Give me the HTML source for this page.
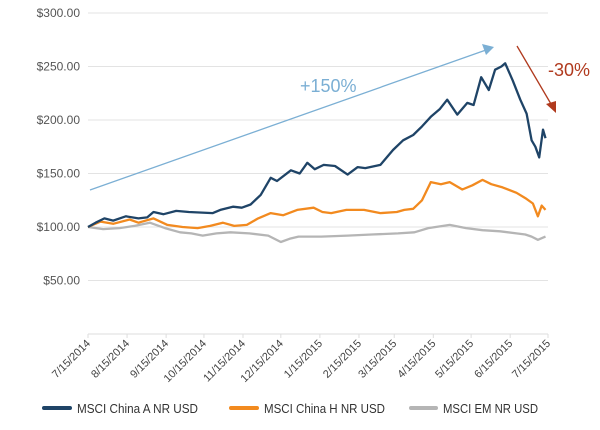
<!DOCTYPE html>
<html><head><meta charset="utf-8"><style>
body{margin:0;background:#fff;}
svg{display:block;font-family:"Liberation Sans",sans-serif;}
</style></head><body>
<svg id="chart" width="600" height="430" viewBox="0 0 600 430" xmlns="http://www.w3.org/2000/svg">
<g id="grid"></g>
<g id="yaxis"></g>
<g id="xaxis"></g>
<g id="series"></g>
<g>
<line x1="90" y1="190" x2="486" y2="50" stroke="#7bafd4" stroke-width="1.3"/>
<polygon points="494,47 482,44 486,55" fill="#7bafd4"/>
<text x="300" y="92" font-size="18" fill="#7bafd4">+150%</text>
</g>
<g>
<line x1="517" y1="46" x2="551" y2="104" stroke="#b03a1e" stroke-width="1.3"/>
<polygon points="556,113 546,104 556,101" fill="#b03a1e"/>
<text x="548" y="76" font-size="18" fill="#b03a1e">-30%</text>
</g>
<g id="legend">
<g><line x1="44" y1="408" x2="70" y2="408" stroke="#1f4467" stroke-width="4" stroke-linecap="round"/><text x="77" y="413" font-size="13" fill="#333" textLength="121" lengthAdjust="spacingAndGlyphs">MSCI China A NR USD</text></g>
<g><line x1="231" y1="408" x2="257" y2="408" stroke="#f28a1f" stroke-width="4" stroke-linecap="round"/><text x="264" y="413" font-size="13" fill="#333" textLength="121" lengthAdjust="spacingAndGlyphs">MSCI China H NR USD</text></g>
<g><line x1="411" y1="408" x2="436" y2="408" stroke="#b5b5b5" stroke-width="4" stroke-linecap="round"/><text x="443" y="413" font-size="13" fill="#333" textLength="95" lengthAdjust="spacingAndGlyphs">MSCI EM NR USD</text></g>
</g>
</svg>
<script>
const yTicks=[0,50,100,150,200,250,300];
const xTickLabels=["7/15/2014","8/15/2014","9/15/2014","10/15/2014","11/15/2014","12/15/2014","1/15/2015","2/15/2015","3/15/2015","4/15/2015","5/15/2015","6/15/2015","7/15/2015"];
const xTickDays=[0,31,62,92,123,153,184,215,243,274,304,335,365];
const chinaADays=[0,6,13,20,30,40,47,52,60,70,80,99,105,115,122,129,137,145,150,161,168,174,180,187,196,206,214,220,232,242,250,258,265,272,279,285,293,301,306,312,318,323,328,331,337,343,348,352,355,358,361,363];
const chinaAVals=[100,104,108,106,110,108,109,114,112,115,114,113,116,119,118,121,130,146,143,153,150,160,154,158,157,149,156,155,158,172,181,186,194,203,210,219,205,216,214,240,228,247,250,253,237,219,206,181,175,165,191,183];
const chinaHDays=[0,10,20,33,40,52,63,75,87,97,107,116,126,135,145,155,166,179,186,193,205,219,232,245,251,258,265,272,280,287,297,305,313,320,329,340,347,353,357,360,363];
const chinaHVals=[100,105,103,107,104,108,102,100,99,101,104,101,102,108,113,111,116,118,114,113,116,116,113,114,116,117,125,142,140,142,135,139,144,140,137,132,127,122,110,120,116];
const emDays=[0,12,25,37,49,61,73,82,91,102,113,128,143,153,160,167,185,206,225,246,259,270,287,300,313,327,340,347,352,357,363];
const emVals=[100,98,99,101,104,99,95,94,92,94,95,94,92,86,89,91,91,92,93,94,95,99,102,99,97,96,94,93,91,88,91];
const X0=88,X1=548,Y0=334,YPER=1.07;
const xs=d=>X0+d/365*(X1-X0);
const ys=v=>Y0-v*YPER;
const NS="http://www.w3.org/2000/svg";
const grid=document.getElementById('grid'),yax=document.getElementById('yaxis'),xax=document.getElementById('xaxis'),ser=document.getElementById('series');
yTicks.forEach(t=>{
 if(t>0){const l=document.createElementNS(NS,'line');
 
 
 l.setAttribute('x1',X0);l.setAttribute('x2',X1);l.setAttribute('y1',ys(t));l.setAttribute('y2',ys(t));
 l.setAttribute('stroke','#e3e3e3');l.setAttribute('stroke-width','1');grid.appendChild(l);
 const tx=document.createElementNS(NS,'text');
 
 
 tx.setAttribute('x',80);tx.setAttribute('y',ys(t)+4);tx.setAttribute('text-anchor','end');
 tx.setAttribute('font-size','12');tx.setAttribute('fill','#555');tx.textContent='$'+t.toFixed(2);yax.appendChild(tx);}
});
const ax=document.createElementNS(NS,'line');


ax.setAttribute('x1',X0);ax.setAttribute('x2',X1);ax.setAttribute('y1',Y0);ax.setAttribute('y2',Y0);ax.setAttribute('stroke','#ddd');xax.appendChild(ax);
xTickLabels.forEach((lab,i)=>{
 const x=xs(xTickDays[i]);
 const tk=document.createElementNS(NS,'line');
 
 
 tk.setAttribute('x1',x);tk.setAttribute('x2',x);tk.setAttribute('y1',Y0);tk.setAttribute('y2',Y0+4);tk.setAttribute('stroke','#ddd');xax.appendChild(tk);
 const tx=document.createElementNS(NS,'text');
 
 
 tx.setAttribute('text-anchor','end');tx.setAttribute('font-size','11');tx.setAttribute('fill','#444');
 tx.setAttribute('transform','translate('+(x+3)+','+(Y0+10)+') rotate(-45)');tx.textContent=lab;xax.appendChild(tx);
});
function draw(days,vals,color,name){
 const p=document.createElementNS(NS,'polyline');
 
 
 p.setAttribute('points',days.map((d,i)=>xs(d).toFixed(1)+','+ys(vals[i]).toFixed(1)).join(' '));
 p.setAttribute('fill','none');p.setAttribute('stroke',color);p.setAttribute('stroke-width','2.3');p.setAttribute('stroke-linejoin','round');
 ser.appendChild(p);
}
draw(emDays,emVals,'#b5b5b5','series-msci-em');
draw(chinaHDays,chinaHVals,'#f28a1f','series-msci-china-h');
draw(chinaADays,chinaAVals,'#1f4467','series-msci-china-a');
</script>
</body></html>
